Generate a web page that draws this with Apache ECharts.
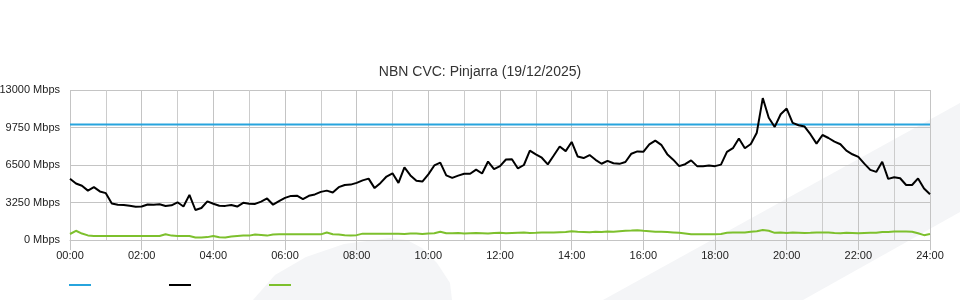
<!DOCTYPE html>
<html>
<head>
<meta charset="utf-8">
<script src="https://cdn.jsdelivr.net/npm/echarts@6/dist/echarts.min.js"></script>
<style>
html,body{margin:0;padding:0;background:#fff;}
#chart{width:960px;height:300px;}
</style>
</head>
<body>
<div id="chart"></div>
<script>
// ---- data (Mbps, one point every 10 minutes from 00:00 to 24:00) ----
const titleText = 'NBN CVC: Pinjarra (19/12/2025)';
const stepMinutes = 10;
const xTickLabels = ['00:00','02:00','04:00','06:00','08:00','10:00','12:00','14:00','16:00','18:00','20:00','22:00','24:00'];
const yTicks = [0, 3250, 6500, 9750, 13000];
const capacityMbps = 10000;
const trafficIn = [
  5305,4900,4700,4280,4580,4210,4060,3170,3060,3040,
  2970,2880,2900,3080,3050,3100,2950,3010,3270,2900,
  3913,2600,2770,3350,3140,2970,2957,3040,2900,3220,
  3150,3130,3330,3600,3060,3370,3650,3820,3840,3539,
  3830,3950,4170,4280,4120,4580,4770,4800,4950,5170,
  5320,4496,4950,5500,5780,4950,6300,5600,5131,5060,
  5690,6460,6700,5600,5380,5580,5739,5739,6100,5760,
  6800,6148,6400,6980,7000,6200,6500,7750,7420,7130,
  6550,7320,8100,7700,8500,7244,7100,7360,6950,6609,
  6860,6650,6600,6760,7480,7680,7640,8280,8610,8250,
  7440,6960,6400,6570,6900,6400,6400,6450,6400,6530,
  7640,7960,8800,7950,8322,9300,12300,10600,9800,10900,
  11391,10150,9950,9830,9150,8350,9100,8840,8530,8300,
  7740,7430,7200,6620,6080,5900,6780,5300,5440,5350,
  4770,4770,5340,4460,3974
];
const trafficOut = [
  520,800,560,400,350,350,350,350,350,350,
  350,350,350,350,350,350,500,380,350,350,
  350,220,220,250,350,230,220,300,350,380,
  380,470,430,380,480,490,490,490,490,490,
  490,490,490,650,500,480,420,400,420,550,
  550,550,550,550,550,550,520,560,560,520,
  560,580,720,580,580,600,560,580,600,580,
  560,600,620,580,600,620,640,600,620,660,
  640,660,680,700,760,720,700,680,720,700,
  740,720,760,800,820,850,800,760,720,720,
  700,660,620,560,500,500,500,500,500,520,
  620,640,640,660,720,760,860,800,620,640,
  600,640,620,600,620,660,650,640,600,580,
  620,600,580,600,620,620,700,700,730,730,
  730,720,580,420,520
];
const seriesNames = ['Capacity', 'Traffic In', 'Traffic Out'];
const seriesColors = ['#27a4dd', '#000000', '#7dc02d'];

// ---- chart ----
const FONT = '"Liberation Sans", Arial, Helvetica, sans-serif';
const toPairs = arr => arr.map((v, i) => [i * stepMinutes, v]);
const dayEnd = (xTickLabels.length - 1) * 120;
const chart = echarts.init(document.getElementById('chart'), null, {renderer: 'canvas'});

const legendAt = (name, left) => ({
  data: [name], left: left, top: 284, icon: 'rect', itemWidth: 22, itemHeight: 2,
  formatter: () => '', padding: 0, selectedMode: false, textStyle: {fontSize: 1}
});

chart.setOption({
  backgroundColor: '#ffffff',
  animation: false,
  textStyle: {fontFamily: FONT},
  title: {
    text: titleText, left: 'center', top: 60,
    textStyle: {fontFamily: FONT, fontSize: 14, fontWeight: 'normal', color: '#333333'}
  },
  graphic: [
    {type: 'polygon', z: -10, silent: true,
     shape: {points: [[253,300],[275,275],[306,257],[344,244],[390,238],[407,240],[422,248],[437,263],[450,283],[452,300]]},
     style: {fill: '#f4f5f7'}},
    {type: 'polygon', z: -10, silent: true,
     shape: {points: [[603,300],[960,103],[960,212],[803,300]]},
     style: {fill: '#f4f5f7'}}
  ],
  legend: [legendAt(seriesNames[0], 69), legendAt(seriesNames[1], 169), legendAt(seriesNames[2], 269)],
  grid: {left: 70, right: 30, top: 90, bottom: 60, containLabel: false, outerBoundsMode: 'none'},
  xAxis: {
    type: 'value', min: 0, max: dayEnd, interval: 120,
    axisLine: {show: true, lineStyle: {color: '#c4c4c4', width: 1}},
    axisTick: {show: true, length: 10, lineStyle: {color: '#c4c4c4'}},
    axisLabel: {
      margin: 10, fontSize: 11, color: '#222222', fontFamily: FONT,
      formatter: v => xTickLabels[Math.round(v / 120)] || ''
    },
    splitLine: {show: true, lineStyle: {color: '#c4c4c4', width: 1}},
    minorTick: {show: false, splitNumber: 2},
    minorSplitLine: {show: true, lineStyle: {color: '#cccccc', width: 1}}
  },
  yAxis: {
    type: 'value', min: yTicks[0], max: yTicks[yTicks.length - 1], interval: yTicks[1] - yTicks[0],
    axisLine: {show: false}, axisTick: {show: false},
    axisLabel: {margin: 10, fontSize: 11, color: '#222222', fontFamily: FONT, formatter: v => String(v) + ' Mbps'},
    splitLine: {show: true, lineStyle: {color: '#c4c4c4', width: 1}}
  },
  series: [
    {name: seriesNames[0], type: 'line', data: [[0, capacityMbps], [dayEnd, capacityMbps]],
     showSymbol: false, color: seriesColors[0], lineStyle: {width: 2, color: seriesColors[0]}, z: 3},
    {name: seriesNames[1], type: 'line', data: toPairs(trafficIn),
     showSymbol: false, color: seriesColors[1], lineStyle: {width: 2, color: seriesColors[1]}, z: 4},
    {name: seriesNames[2], type: 'line', data: toPairs(trafficOut),
     showSymbol: false, color: seriesColors[2], lineStyle: {width: 2, color: seriesColors[2]}, z: 4}
  ]
});
</script>
</body>
</html>
